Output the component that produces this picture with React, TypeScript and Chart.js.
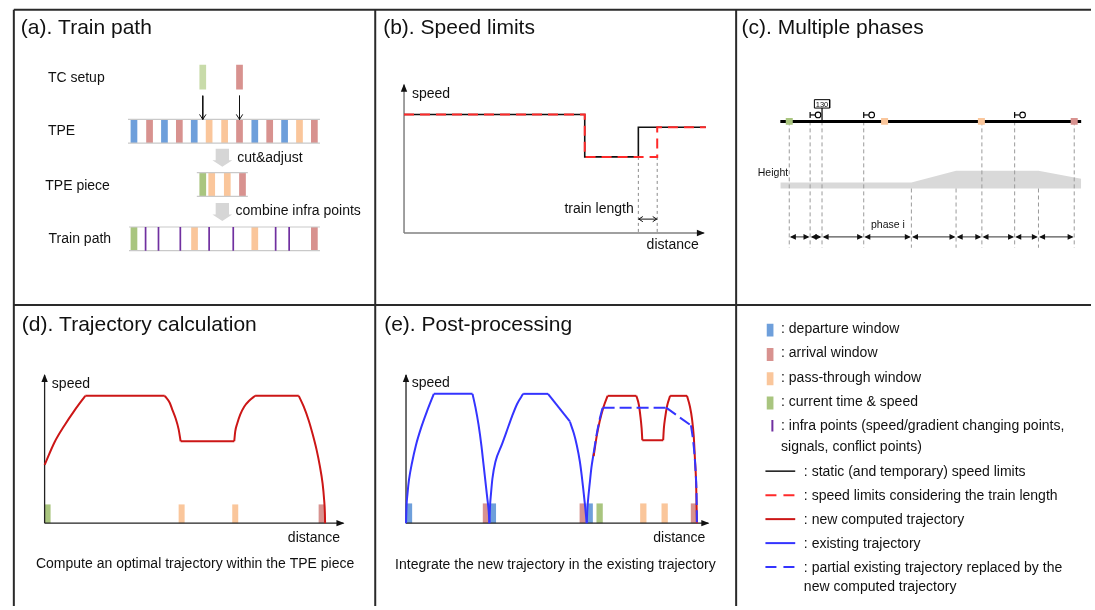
import React, { useEffect, useRef } from "react";
import { Chart, registerables } from "chart.js";

Chart.register(...registerables);

const W = 1095;
const H = 610;
const FONT = '"Liberation Sans", Arial, Helvetica, sans-serif';

// ---------------- colours ----------------
const WINDOW_COLORS: Record<string, string> = {
  dep: "#6e9fdb",
  arr: "#d8928f",
  pass: "#fac69b",
  cur: "#a9c57f",
  curLight: "#c8dba9",
  infra: "#7030a0",
};
const RED_LIMIT = "#ff2a2a";
const RED_TRAJ = "#cc1616";
const BLUE_TRAJ = "#3434ff";
const INK = "#111111";

// ---------------- (a) Train path : positions along the route ----------------
const TC_SETUP_POS = [75.3, 112.3];
const TC_SETUP_KIND = ["curLight", "arr"];
const TPE_POS = [6, 21.7, 36.7, 51.7, 66.7, 81.7, 97.3, 112.3, 127.7, 142.7, 157.7, 172.7, 187.7];
const TPE_KIND = ["dep", "arr", "dep", "arr", "dep", "pass", "pass", "arr", "dep", "arr", "dep", "pass", "arr"];
const TPE_RANGE = [0, 193.3];
const PIECE_POS = [75.3, 84.3, 100, 115.3];
const PIECE_KIND = ["cur", "pass", "pass", "arr"];
const PIECE_RANGE = [69.3, 120.7];
const PATH_POS = [6, 67, 127.7, 187.7];
const PATH_KIND = ["cur", "pass", "pass", "arr"];
const PATH_INFRA = [17.7, 30.7, 52.7, 81.7, 106, 148.7, 162.3];
const PATH_RANGE = [1, 193.3];
const A_STEP_LABELS = ["cut&adjust", "combine infra points"];
const A_ROW_LABELS = ["TC setup", "TPE", "TPE piece", "Train path"];

// ---------------- (b) Speed limits : distance / speed ----------------
const B_STATIC_DIST = [0, 182, 182, 236, 236, 304];
const B_STATIC_SPEED = [120, 120, 77, 77, 107, 107];
const B_TRAIN_DIST = [0, 182, 182, 255, 255, 304];
const B_TRAIN_SPEED = [120, 120, 77, 77, 107, 107];
const B_TRAIN_LENGTH = [236, 255];

// ---------------- (c) Multiple phases : positions along the track ----------------
const C_TRACK_END = 303;
const C_WINDOW_POS = [9, 105, 202.5, 296];
const C_WINDOW_KIND = ["cur", "pass", "pass", "arr"];
const C_SIGNAL_POS = [30, 84, 236];
const C_SIGN_POS = [42];
const C_SIGN_TEXT = ["130"];
const C_PHASE_BOUNDS = [9, 30, 42, 84, 132, 177, 203, 236, 260, 296];
const C_GRADIENT_BOUNDS = [132, 177, 260];
const C_HEIGHT_DIST = [0, 132, 177, 260, 303];
const C_HEIGHT_VAL = [6, 6, 18, 18, 10];

// ---------------- (d) Trajectory calculation : [distance, speed] ----------------
const D_WINDOW_POS = [3, 138, 192, 279];
const D_WINDOW_KIND = ["cur", "pass", "pass", "arr"];
const D_NEW_TRAJ: number[][][] = [
  [[0, 59], [10, 82], [20, 99], [30, 114], [41, 129]],
  [[41, 129], [121, 129]],
  [[121, 129], [126, 122], [129, 114], [132, 106], [135, 95], [137, 83]],
  [[137, 83], [191, 83]],
  [[191, 83], [192, 93], [194, 101], [197, 110], [201, 118], [206, 124], [212, 129]],
  [[212, 129], [256, 129]],
  [[256, 129], [261, 118], [266, 104], [270, 90], [274, 74], [277, 59], [280, 40], [281.5, 24], [282.3, 10], [282.5, 0]],
];

// ---------------- (e) Post-processing : [distance, speed] ----------------
const E_WINDOW_POS = [3, 80.5, 87.5, 178, 185, 195, 239, 260.5, 290];
const E_WINDOW_KIND = ["dep", "arr", "dep", "arr", "dep", "cur", "pass", "pass", "arr"];
const E_EXISTING: number[][][] = [
  [[0, 0], [0.5, 17], [1.5, 30], [3, 44], [6, 61], [10, 79], [15, 96], [21, 113], [28, 131]],
  [[28, 131], [67, 131]],
  [[67, 131], [70, 117], [73, 100], [76, 78], [78, 60], [80, 42], [82, 24], [83.3, 12], [84, 0]],
  [[84, 0], [84.6, 17], [85.6, 30], [87, 45], [90, 62], [96.7, 80], [101, 92], [106.7, 108], [112, 121], [118, 131]],
  [[118, 131], [143, 131]],
  [[143, 131], [165, 103]],
  [[165, 103], [169, 91], [172, 79], [175, 63], [177, 48], [178.8, 32], [180.5, 16], [182, 0]],
  [[182, 0], [182.5, 12], [183.3, 23], [185, 40], [186.7, 56], [189, 71]],
];
const E_REPLACED: number[][][] = [
  [[189, 71], [192, 90], [195, 105], [198, 117]],
  [[198, 117], [262, 117]],
  [[262, 117], [287, 99]],
  [[287, 99], [289, 85], [290.5, 70], [291.8, 50], [292.6, 30], [293, 0]],
];
const E_NEW: number[][][] = [
  [[189, 68], [192, 88], [195, 103], [199, 118], [203, 129]],
  [[203, 129], [232, 129]],
  [[232, 129], [234.5, 120], [236, 109], [237.3, 96], [238, 84]],
  [[238, 84], [259, 84]],
  [[259, 84], [259.7, 96], [261, 107], [263, 119], [266, 129]],
  [[266, 129], [283, 129]],
  [[283, 129], [286, 118], [288, 106], [289.8, 88], [291, 65], [292.2, 40], [293, 0]],
];

// ---------------- (f) legend ----------------
const LEGEND_WINDOW_KIND = ["dep", "arr", "pass", "cur"];
const LEGEND_WINDOW_TEXT = [": departure window", ": arrival window", ": pass-through window", ": current time & speed"];
const LEGEND_INFRA_TEXT = [": infra points (speed/gradient changing points,", "signals, conflict points)"];
const LEGEND_LINE_TEXT = [
  ": static (and temporary) speed limits",
  ": speed limits considering the train length",
  ": new computed trajectory",
  ": existing trajectory",
  ": partial existing trajectory replaced by the",
];
const LEGEND_LINE_EXTRA = "new computed trajectory";
const LEGEND_LINE_COLOR = [INK, RED_LIMIT, RED_TRAJ, BLUE_TRAJ, BLUE_TRAJ];
const LEGEND_LINE_DASH = [[], [11, 7], [], [], [11, 7]];
const LEGEND_LINE_WIDTH = [1.5, 2, 2, 2, 2];

const TITLES = ["(a). Train path", "(b). Speed limits", "(c). Multiple phases", "(d). Trajectory calculation", "(e). Post-processing"];

// ---------------- layout (panel frames) ----------------
const GRID_X = [10, 374, 737.5];
const GRID_Y = [6, 305];
const TITLE_POS = [[17, 30], [382, 30], [743, 30], [18, 331], [383, 331]];
const A_X0 = 125;
const A_ROWS = { tc: [61.7, 86.7], tpe: [117, 141], piece: [171, 195], path: [226, 250] };
const A_ARROW_Y = [93, 117];
const A_ROW_LABEL_POS = [[44.3, 79.5], [44.3, 133.3], [41.7, 188.3], [45, 241.7]];
const A_BLOCK_ARROWS = [
  { pos: 95, top: 146.7, neck: 158.3, tip: 165 },
  { pos: 95, top: 201.7, neck: 213.3, tip: 220 },
];
const A_STEP_LABEL_POS = [[235, 160.3], [233.3, 214.3]];
const B_O = { x: 403, y: 232 };
const C_X0 = 782;
const C_TRACK_Y = 119;
const C_HEIGHT_BASE = 187;
const C_PHASE_Y = 236;
const C_DASH_BOTTOM = 247;
const C_SIGNAL_Y = 112.5;
const D_O = { x: 41, y: 526 };
const E_O = { x: 405, y: 526 };
const BAR_W = 6.7;

type P = { x: number; y: number };
type Head = { x: number; y: number; dir: string; len: number; half: number; open?: boolean; color: string; lw?: number };
type Txt = { t: string; x: number; y: number; size: number; align?: CanvasTextAlign; color?: string };
type Poly = { pts: P[]; color: string };

function buildFigure() {
  const layers: any[] = [];
  const heads: Head[] = [];
  const polys: Poly[] = [];
  const texts: Txt[] = [];
  const pt = (x: number, y: number): P => ({ x, y });

  const add = (pts: P[], color: string, width: number, extra: any = {}) => {
    layers.push({
      data: pts,
      borderColor: color,
      backgroundColor: color,
      borderWidth: width,
      pointRadius: 0,
      pointHoverRadius: 0,
      fill: false,
      tension: 0,
      borderCapStyle: "butt",
      ...extra,
    });
  };
  const curve = (pts: P[], color: string, width: number, extra: any = {}) =>
    add(pts, color, width, { cubicInterpolationMode: pts.length > 2 ? "monotone" : "default", borderJoinStyle: "round", ...extra });
  const vbar = (x: number, y1: number, y2: number, color: string, w: number) => add([pt(x, y1), pt(x, y2)], color, w);

  // ---------- grid ----------
  GRID_X.forEach((x) => add([pt(x, GRID_Y[0]), pt(x, H)], "#2a2a2a", 2));
  GRID_Y.forEach((y) => add([pt(GRID_X[0], y), pt(W, y)], "#2a2a2a", 2));
  TITLES.forEach((t, i) => texts.push({ t, x: TITLE_POS[i][0], y: TITLE_POS[i][1], size: 21 }));

  // ---------- (a) ----------
  const ax = (p: number) => A_X0 + p;
  const strip = (range: number[], row: number[], pos: number[], kinds: string[]) => {
    pos.forEach((p, i) => vbar(ax(p), row[0], row[1], WINDOW_COLORS[kinds[i]], BAR_W));
    add([pt(ax(range[0]), row[0]), pt(ax(range[1]), row[0])], "#c9c9c9", 1.2);
    add([pt(ax(range[0]), row[1]), pt(ax(range[1]), row[1])], "#c9c9c9", 1.2);
  };
  TC_SETUP_POS.forEach((p, i) => vbar(ax(p), A_ROWS.tc[0], A_ROWS.tc[1], WINDOW_COLORS[TC_SETUP_KIND[i]], BAR_W));
  strip(TPE_RANGE, A_ROWS.tpe, TPE_POS, TPE_KIND);
  TC_SETUP_POS.forEach((p) => {
    add([pt(ax(p), A_ARROW_Y[0]), pt(ax(p), A_ARROW_Y[1])], INK, 1);
    heads.push({ x: ax(p), y: A_ARROW_Y[1], dir: "down", len: 5, half: 3.2, open: true, color: INK });
  });
  strip(PIECE_RANGE, A_ROWS.piece, PIECE_POS, PIECE_KIND);
  strip(PATH_RANGE, A_ROWS.path, PATH_POS, PATH_KIND);
  PATH_INFRA.forEach((p) => vbar(ax(p), A_ROWS.path[0], A_ROWS.path[1], WINDOW_COLORS.infra, 1.7));
  A_BLOCK_ARROWS.forEach((b) => {
    const c = ax(b.pos);
    polys.push({
      color: "#d6d6d6",
      pts: [pt(c - 6.7, b.top), pt(c + 6.7, b.top), pt(c + 6.7, b.neck), pt(c + 10, b.neck), pt(c, b.tip), pt(c - 10, b.neck), pt(c - 6.7, b.neck)],
    });
  });
  A_ROW_LABELS.forEach((t, i) => texts.push({ t, x: A_ROW_LABEL_POS[i][0], y: A_ROW_LABEL_POS[i][1], size: 14 }));
  A_STEP_LABELS.forEach((t, i) => texts.push({ t, x: A_STEP_LABEL_POS[i][0], y: A_STEP_LABEL_POS[i][1], size: 14 }));

  // ---------- (b) ----------
  const B = (d: number, v: number) => pt(B_O.x + d, B_O.y - v);
  add([B(0, 0), B(0, 150)], "#808080", 1.5);
  add([B(0, 0), B(302, 0)], "#808080", 1.5);
  heads.push({ ...B(0, 151), dir: "up", len: 8, half: 3.2, color: INK });
  heads.push({ ...B(303, 0), dir: "right", len: 8, half: 3.2, color: INK });
  B_TRAIN_LENGTH.forEach((d) => add([B(d, 77), B(d, 0)], "#8a8a8a", 1, { borderDash: [3, 3] }));
  add(B_STATIC_DIST.map((d, i) => B(d, B_STATIC_SPEED[i])), INK, 1.6);
  add(B_TRAIN_DIST.map((d, i) => B(d, B_TRAIN_SPEED[i])), RED_LIMIT, 2, { borderDash: [10, 6] });
  add([B(B_TRAIN_LENGTH[0], 14), B(B_TRAIN_LENGTH[1], 14)], INK, 1);
  heads.push({ ...B(B_TRAIN_LENGTH[0] + 0.5, 14), dir: "left", len: 4, half: 2.6, open: true, color: INK });
  heads.push({ ...B(B_TRAIN_LENGTH[1] - 0.5, 14), dir: "right", len: 4, half: 2.6, open: true, color: INK });
  texts.push({ t: "speed", ...B(8, 137), size: 14 });
  texts.push({ t: "distance", ...B(244.3, -16), size: 14 });
  texts.push({ t: "train length", ...B(231.3, 20), size: 14, align: "right" });

  // ---------- (c) ----------
  const cx = (d: number) => C_X0 + d;
  add(C_HEIGHT_DIST.map((d, i) => pt(cx(d), C_HEIGHT_BASE - C_HEIGHT_VAL[i])), "#d9d9d9", 0, {
    fill: { value: C_HEIGHT_BASE },
    backgroundColor: "#d9d9d9",
  });
  C_PHASE_BOUNDS.forEach((d) => {
    const top = C_GRADIENT_BOUNDS.includes(d) ? C_HEIGHT_BASE : C_TRACK_Y;
    add([pt(cx(d), top), pt(cx(d), C_DASH_BOTTOM)], "#9a9a9a", 1, { borderDash: [4, 3] });
  });
  add([pt(cx(0), C_TRACK_Y), pt(cx(C_TRACK_END), C_TRACK_Y)], "#000", 3);
  C_WINDOW_POS.forEach((d, i) => vbar(cx(d), C_TRACK_Y - 3.5, C_TRACK_Y + 3.5, WINDOW_COLORS[C_WINDOW_KIND[i]], 7));
  C_SIGNAL_POS.forEach((d) => {
    add([pt(cx(d), C_SIGNAL_Y - 3), pt(cx(d), C_SIGNAL_Y + 3)], "#000", 1.2);
    add([pt(cx(d), C_SIGNAL_Y), pt(cx(d) + 5.2, C_SIGNAL_Y)], "#000", 1.2);
    add([pt(cx(d) + 8, C_SIGNAL_Y)], "#000", 1, {
      pointRadius: 2.8,
      pointStyle: "circle",
      pointBackgroundColor: "#ffffff",
      pointBorderColor: "#000",
      pointBorderWidth: 1.1,
    });
  });
  C_SIGN_POS.forEach((d, i) => {
    const c = cx(d);
    add([pt(c, 105.5), pt(c, C_TRACK_Y)], "#000", 1.2);
    add([pt(c - 7.7, 97), pt(c + 7.7, 97), pt(c + 7.7, 105.5), pt(c - 7.7, 105.5), pt(c - 7.7, 97)], "#000", 1);
    texts.push({ t: C_SIGN_TEXT[i], x: c, y: 104, size: 7.5, align: "center" });
  });
  for (let i = 0; i < C_PHASE_BOUNDS.length - 1; i++) {
    const a = cx(C_PHASE_BOUNDS[i]);
    const b = cx(C_PHASE_BOUNDS[i + 1]);
    add([pt(a + 2, C_PHASE_Y), pt(b - 2, C_PHASE_Y)], "#555", 1.2);
    heads.push({ x: a + 0.6, y: C_PHASE_Y, dir: "left", len: 6, half: 2.9, color: INK });
    heads.push({ x: b - 0.6, y: C_PHASE_Y, dir: "right", len: 6, half: 2.9, color: INK });
  }
  texts.push({ t: "Height", x: 759.3, y: 174.8, size: 10.5 });
  texts.push({ t: "phase i", x: 873.3, y: 227.5, size: 10.5 });

  // ---------- (d) ----------
  const D = (d: number, v: number) => pt(D_O.x + d, D_O.y - v);
  D_WINDOW_POS.forEach((d, i) => add([D(d, 0), D(d, 19)], WINDOW_COLORS[D_WINDOW_KIND[i]], 6));
  add([D(0, 0), D(0, 150)], "#222", 1.3);
  add([D(0, 0), D(301, 0)], "#222", 1.3);
  heads.push({ ...D(0, 151), dir: "up", len: 8, half: 3.2, color: INK });
  heads.push({ ...D(302, 0), dir: "right", len: 8, half: 3.2, color: INK });
  D_NEW_TRAJ.forEach((piece) => curve(piece.map(([d, v]) => D(d, v)), RED_TRAJ, 2));
  texts.push({ t: "speed", ...D(7.3, 137), size: 14 });
  texts.push({ t: "distance", ...D(245, -19), size: 14 });
  texts.push({ t: "Compute an optimal trajectory within the TPE piece", x: 32.3, y: 571.7, size: 14 });

  // ---------- (e) ----------
  const E = (d: number, v: number) => pt(E_O.x + d, E_O.y - v);
  E_WINDOW_POS.forEach((d, i) => add([E(d, 0), E(d, 20)], WINDOW_COLORS[E_WINDOW_KIND[i]], 6.3));
  add([E(0, 0), E(0, 150)], "#222", 1.3);
  add([E(0, 0), E(304.5, 0)], "#222", 1.3);
  heads.push({ ...E(0, 151), dir: "up", len: 8, half: 3.2, color: INK });
  heads.push({ ...E(305.5, 0), dir: "right", len: 8, half: 3.2, color: INK });
  E_EXISTING.forEach((piece) => curve(piece.map(([d, v]) => E(d, v)), BLUE_TRAJ, 2));
  E_NEW.forEach((piece) => curve(piece.map(([d, v]) => E(d, v)), RED_TRAJ, 2));
  E_REPLACED.forEach((piece) => curve(piece.map(([d, v]) => E(d, v)), BLUE_TRAJ, 2, { borderDash: [12, 5] }));
  texts.push({ t: "speed", ...E(5.7, 138), size: 14 });
  texts.push({ t: "distance", ...E(249, -19), size: 14 });
  texts.push({ t: "Integrate the new trajectory in the existing trajectory", x: 394, y: 572, size: 14 });

  // ---------- (f) legend ----------
  LEGEND_WINDOW_KIND.forEach((k, i) => {
    const base = 333.5 + 24.6 * i;
    vbar(771.7, base - 9.5, base + 3.5, WINDOW_COLORS[k], 6.7);
    texts.push({ t: LEGEND_WINDOW_TEXT[i], x: 782.7, y: base, size: 14 });
  });
  {
    const base = 333.5 + 24.6 * 4;
    vbar(774, base - 10.3, base + 1.3, WINDOW_COLORS.infra, 2);
    texts.push({ t: LEGEND_INFRA_TEXT[0], x: 782.7, y: base, size: 14 });
    texts.push({ t: LEGEND_INFRA_TEXT[1], x: 782.7, y: base + 20.5, size: 14 });
  }
  LEGEND_LINE_TEXT.forEach((t, i) => {
    const y = 473.3 + 24.3 * i;
    add([pt(767, y), pt(797, y)], LEGEND_LINE_COLOR[i], LEGEND_LINE_WIDTH[i], { borderDash: LEGEND_LINE_DASH[i] });
    texts.push({ t, x: 805.7, y: y + 5, size: 14 });
  });
  texts.push({ t: LEGEND_LINE_EXTRA, x: 805.7, y: 473.3 + 24.3 * 4 + 24, size: 14 });

  return { datasets: layers.reverse(), heads, polys, texts };
}

function drawHead(ctx: CanvasRenderingContext2D, h: Head, X: (v: number) => number, Y: (v: number) => number) {
  const dirs: Record<string, number[]> = { up: [0, -1], down: [0, 1], left: [-1, 0], right: [1, 0] };
  const [dx, dy] = dirs[h.dir];
  const tx = X(h.x);
  const ty = Y(h.y);
  const bx = tx - dx * h.len;
  const by = ty - dy * h.len;
  const px = -dy;
  const py = dx;
  ctx.beginPath();
  if (h.open) {
    ctx.moveTo(bx + px * h.half, by + py * h.half);
    ctx.lineTo(tx, ty);
    ctx.lineTo(bx - px * h.half, by - py * h.half);
    ctx.strokeStyle = h.color;
    ctx.lineWidth = h.lw || 1;
    ctx.stroke();
  } else {
    ctx.moveTo(tx, ty);
    ctx.lineTo(bx + px * h.half, by + py * h.half);
    ctx.lineTo(bx - px * h.half, by - py * h.half);
    ctx.closePath();
    ctx.fillStyle = h.color;
    ctx.fill();
  }
}

export default function App() {
  const canvasRef = useRef<HTMLCanvasElement | null>(null);

  useEffect(() => {
    const canvas = canvasRef.current;
    if (!canvas) return;
    const fig = buildFigure();

    const overlay = {
      id: "figureOverlay",
      beforeDatasetsDraw(chart: any) {
        const { ctx, scales } = chart;
        const X = (v: number) => scales.x.getPixelForValue(v);
        const Y = (v: number) => scales.y.getPixelForValue(v);
        ctx.save();
        fig.polys.forEach((poly) => {
          ctx.beginPath();
          poly.pts.forEach((p, i) => (i ? ctx.lineTo(X(p.x), Y(p.y)) : ctx.moveTo(X(p.x), Y(p.y))));
          ctx.closePath();
          ctx.fillStyle = poly.color;
          ctx.fill();
        });
        ctx.restore();
      },
      afterDatasetsDraw(chart: any) {
        const { ctx, scales } = chart;
        const X = (v: number) => scales.x.getPixelForValue(v);
        const Y = (v: number) => scales.y.getPixelForValue(v);
        ctx.save();
        fig.heads.forEach((h) => drawHead(ctx, h, X, Y));
        fig.texts.forEach((t) => {
          ctx.font = `${t.size}px ${FONT}`;
          ctx.fillStyle = t.color || INK;
          ctx.textAlign = t.align || "left";
          ctx.textBaseline = "alphabetic";
          ctx.fillText(t.t, X(t.x), Y(t.y));
        });
        ctx.restore();
      },
    };

    const chart = new Chart(canvas, {
      type: "line",
      data: { datasets: fig.datasets },
      options: {
        animation: false,
        responsive: false,
        devicePixelRatio: 1,
        events: [],
        layout: { padding: 0 },
        plugins: { legend: { display: false }, tooltip: { enabled: false }, title: { display: false } },
        elements: { point: { radius: 0, hoverRadius: 0 } },
        scales: {
          x: { type: "linear", min: 0, max: W, display: false },
          y: { type: "linear", min: 0, max: H, reverse: true, display: false },
        },
      } as any,
      plugins: [overlay as any],
    });
    return () => chart.destroy();
  }, []);

  return (
    <div style={{ position: "absolute", left: 0, top: 0, width: W, height: H, background: "#fff" }}>
      <canvas ref={canvasRef} width={W} height={H} style={{ display: "block", width: W, height: H }} />
    </div>
  );
}
